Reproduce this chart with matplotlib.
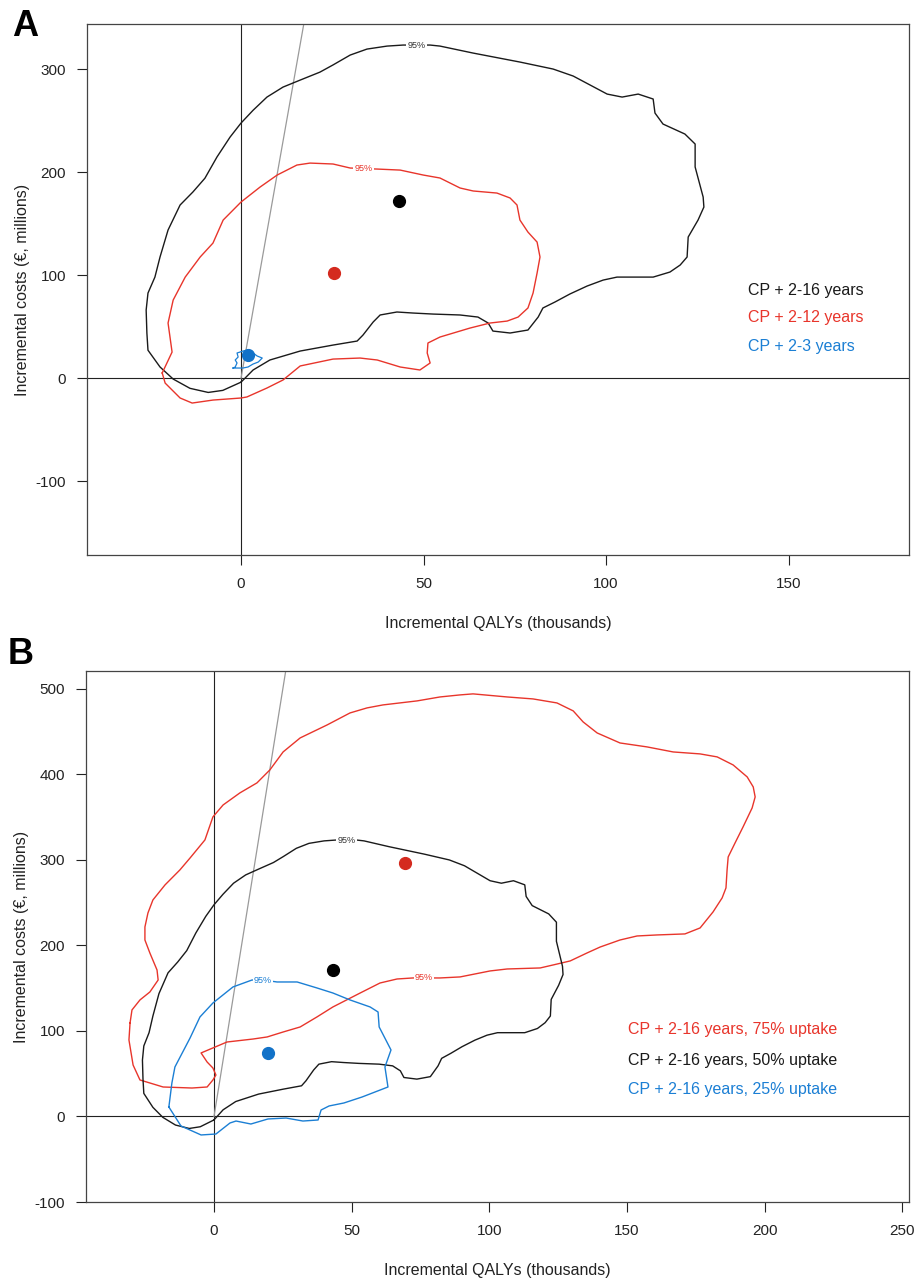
import numpy as np
import matplotlib
matplotlib.use("Agg")
import matplotlib.pyplot as plt

plt.rcParams['font.family'] = ['Liberation Sans', 'DejaVu Sans']
plt.rcParams['axes.unicode_minus'] = False

# willingness-to-pay line, thousand euro per QALY (slope in millions per thousand QALYs)
wtp = 20

# 95% contour, CP + 2-16 years (50% uptake) -- QALYs (thousands), costs (millions)
black_x = [0, -5, -9, -14, -18.6, -22.2, -25.5, -25.8, -26, -25.5, -23.6, -22.2, -20, -16.7,
           -13.2, -9.9, -6.6, -3, 0, 3.3, 7.1, 11.5, 16.2, 21.6, 25.2, 29.9, 34.5, 40, 44.4,
           51.8, 54.5, 63.6, 76.4, 85.5, 91, 100.3, 104.4, 108.8, 112.9, 113.4, 115.6, 121.6,
           124.4, 124.4, 126.6, 126.8, 125.2, 122.5, 122.2, 120.3, 117.5, 112.9, 103, 99.2,
           94.8, 90.1, 86, 82.7, 81.4, 78.6, 73.7, 69, 67.7, 64.9, 60, 52.6, 47.1, 42.7, 38.1,
           36.2, 33.4, 31.8, 25.2, 16.2, 7.9, 3.3, 0]
black_y = [-4, -12, -14, -10, -1, 10.7, 27, 43.7, 66, 82.5, 98, 117.5, 143.7, 168, 180.6, 194,
           214.6, 234, 247.6, 260, 272.8, 282.5, 289.3, 297, 304, 313.6, 319.4, 322.3, 323.3,
           323.3, 322.3, 315.5, 306.8, 300, 293.2, 275.7, 272.8, 275.7, 270.9, 257.3, 246.6,
           236.9, 227.2, 204.9, 175.7, 166, 153.4, 136.9, 117.5, 109.7, 102.9, 98, 98, 95.1,
           89.3, 81.6, 73.8, 68, 59.2, 46.6, 43.7, 45.6, 53.4, 59.2, 61.2, 62.1, 63.1, 64.1,
           61.2, 54.4, 41.7, 35.9, 32, 26.2, 17.5, 7.8, -4]

# 95% contour, CP + 2-12 years
red_a_x = [-21.6, -18.9, -20, -18.6, -15.3, -11.2, -7.7, -4.9, 0, 5.2, 9.9, 15.3, 18.9, 25.2,
           29.9, 37.3, 43.6, 49.9, 54.5, 60, 63.6, 70.1, 73.7, 75.6, 76.4, 78.6, 81.1, 81.9,
           81.1, 80, 78.6, 75.9, 72.9, 68.2, 62.7, 54.5, 51.2, 51, 51.8, 49, 43.6, 37.3, 32.6,
           25.2, 16.2, 11.5, 7.1, 1.6, 0, -7.7, -13.4, -16.7, -20.8, -21.6]
red_a_y = [4.9, 25.2, 53.4, 75.7, 98, 117.5, 131, 153.4, 170.9, 185.4, 197.1, 206.8, 208.7,
           207.8, 203.9, 202.9, 201.9, 197.1, 194.2, 184.5, 181.6, 179.6, 174.8, 168, 153.4,
           141.7, 132, 117.5, 101.9, 82.5, 68, 59.2, 55.3, 53.4, 48.5, 39.8, 34, 24.3, 14.6,
           7.8, 10.7, 17.5, 19.4, 18.4, 11.7, -1.9, -9.7, -18.4, -19.4, -21.4, -24.3, -19.4,
           -4.9, 4.9]

# 95% contour, CP + 2-3 years
blue_a_x = [-2.2, -1.6, -1.1, -1.6, -0.8, -1.1, -0.3, 0.5, 1.9, 3.3, 4.4, 5.8, 4.7, 3.3, 1.9,
            0.5, -0.8, -2.2]
blue_a_y = [9.7, 10.7, 14.6, 17.5, 20.4, 24.3, 25.2, 26.2, 27.2, 24.3, 21.4, 19.4, 15.5, 13.6,
            10.7, 9.7, 9.7, 9.7]

# 95% contour, CP + 2-16 years, 75% uptake
red_b_x = [-30.5, -29.8, -26.9, -23.3, -20.3, -20.7, -23.3, -25.1, -25.1, -24, -22.2, -17.8,
           -12.4, -8.7, -3.3, -0.4, 3.3, 9.4, 15.6, 20.3, 25.1, 31.3, 41.1, 49.4, 55.6, 61.4,
           73.8, 82.1, 89.4, 94.1, 106.5, 115.9, 124.6, 130.5, 134.1, 139.2, 147.5, 157.3,
           166.8, 176.6, 182.8, 188.6, 193.7, 195.9, 196.6, 195.5, 192.2, 189.3, 186.8, 186.4,
           186, 184.6, 181.3, 176.6, 171.1, 161, 153.7, 147.5, 140.3, 135.5, 129.4, 123.2,
           118.5, 106.5, 100.3, 89.4, 82.1, 76.3, 72.3, 66.5, 60.3, 53.1, 43.2, 37.4, 31.3,
           25.1, 19.3, 14.2, 4.7, -4.7, -2.5, -0.4, 0.7, -0.4, -2.5, -8, -18.5, -26.9, -29.4,
           -30.9, -30.5]
red_b_y = [109.4, 124.6, 136.3, 145.6, 159.6, 171.3, 191.2, 206.4, 221.6, 238, 253.2, 270.8,
           288.3, 302.3, 323.4, 350.3, 364.3, 378.4, 390.1, 405.3, 426.3, 442.7, 457.9, 471.9,
           477.8, 481.3, 486, 490.6, 493, 494.2, 490.6, 488.3, 483.6, 474.3, 461.4, 448.5,
           436.8, 432.2, 426.3, 424, 420.5, 411.1, 397.1, 385.4, 373.7, 360.8, 338.6, 319.9,
           303.5, 288.3, 267.3, 255.6, 239.2, 220.5, 213.5, 212.3, 211.1, 206.4, 198.2, 191.2,
           181.9, 177.2, 173.7, 172.5, 170.2, 163.2, 162, 162, 162, 160.8, 156.1, 144.4, 128.1,
           116.4, 104.7, 98.8, 93, 90.6, 87.1, 74.3, 63.7, 56.7, 48.5, 42.7, 34.5, 33.3, 34.5,
           42.7, 60.2, 89.5, 109.4]

# 95% contour, CP + 2-16 years, 25% uptake
blue_b_x = [-16.4, -15.3, -14.2, -8.7, -5.1, -0.4, 6.9, 13.8, 17.8, 22.9, 30.2, 37.4, 43.2,
            49.4, 56.7, 59.6, 60, 64.3, 62.1, 63.2, 53.8, 47.2, 41.8, 38.9, 37.8, 32.3, 26.2,
            19.6, 13.4, 8, 5.8, 0.7, -4.7, -12, -16.4]
blue_b_y = [11.1, 39.2, 57.9, 91.8, 116.4, 132.7, 151.5, 159.6, 159.6, 157.3, 157.3, 150.3,
            144.4, 136.3, 128.1, 122.2, 104.7, 77.8, 57.9, 34.5, 22.8, 15.8, 12.3, 7.6, -4.1,
            -5.3, -1.8, -2.9, -8.8, -5.3, -7.6, -20.5, -21.6, -11.1, 11.1]

# mean incremental QALYs / costs
mean_a = {"black": (43.3, 171.8), "red": (25.5, 102), "blue": (1.9, 22.3)}
mean_b = {"red": (69.4, 296.5), "black": (43.3, 171.8), "blue": (19.6, 74.3)}

labels_a = ["CP + 2-16 years", "CP + 2-12 years", "CP + 2-3 years"]
labels_b = ["CP + 2-16 years, 75% uptake", "CP + 2-16 years, 50% uptake",
            "CP + 2-16 years, 25% uptake"]

c_black = "#1a1a1a"
c_red = "#e8352b"
c_blue = "#1b7fd4"
dot_red = "#d42a1e"
dot_blue = "#1272c8"


def setup(ax, xlim, ylim, xticks, yticks):
    ax.set_xlim(xlim)
    ax.set_ylim(ylim)
    ax.set_xticks(xticks)
    ax.set_yticks(yticks)
    ax.tick_params(direction="out", length=7, width=0.8, pad=8, labelsize=11, colors="#222222")
    ax.tick_params(axis="x", pad=9)
    for s in ax.spines.values():
        s.set_linewidth(0.9)
        s.set_color("#444444")
    ax.axhline(0, color="#222222", lw=0.8, zorder=1)
    ax.axvline(0, color="#222222", lw=0.8, zorder=1)
    xx = np.array([0, ylim[1] / wtp])
    ax.plot(xx, wtp * xx, color="#9a9a9a", lw=0.9, zorder=1)
    ax.set_xlabel("Incremental QALYs (thousands)", fontsize=11.5, labelpad=18, color="#222222")
    ax.set_ylabel("Incremental costs (€, millions)", fontsize=11.5, labelpad=4, color="#222222")


def label95(ax, x, y, color):
    ax.text(x, y, "95%", fontsize=6.5, color=color, ha="center", va="center", zorder=4,
            bbox=dict(boxstyle="square,pad=0.15", fc="white", ec="none"))


fig = plt.figure(figsize=(9.17, 12.79), dpi=100)

# ---- panel A
ax1 = fig.add_axes([0.0949, 0.5661, 0.8964, 0.4151])
setup(ax1, (-42.2, 183), (-171.8, 343.7), [0, 50, 100, 150], [-100, 0, 100, 200, 300])
ax1.plot(black_x, black_y, color=c_black, lw=1.0, zorder=2)
ax1.plot(red_a_x, red_a_y, color=c_red, lw=1.0, zorder=2)
ax1.plot(blue_a_x, blue_a_y, color=c_blue, lw=0.9, zorder=2)
label95(ax1, 48.1, 323.3, "#333333")
label95(ax1, 33.6, 203.4, c_red)
ax1.plot(*mean_a["black"], "o", color="black", ms=8.5, zorder=5)
ax1.plot(*mean_a["red"], "o", color=dot_red, ms=8.5, zorder=5)
ax1.plot(*mean_a["blue"], "o", color=dot_blue, ms=8.5, zorder=5)
for lab, col, yy in zip(labels_a, [c_black, c_red, c_blue], [85.4, 58.3, 31]):
    ax1.text(139, yy, lab, color=col, fontsize=11.5, va="center", ha="left")

# ---- panel B
ax2 = fig.add_axes([0.0938, 0.0602, 0.8975, 0.4152])
setup(ax2, (-46.5, 252.5), (-100, 521), [0, 50, 100, 150, 200, 250],
      [-100, 0, 100, 200, 300, 400, 500])
ax2.plot(red_b_x, red_b_y, color=c_red, lw=1.0, zorder=2)
ax2.plot(black_x, black_y, color=c_black, lw=1.0, zorder=2)
ax2.plot(blue_b_x, blue_b_y, color=c_blue, lw=1.0, zorder=2)
label95(ax2, 76.3, 162, c_red)
label95(ax2, 48.1, 323.3, "#333333")
label95(ax2, 17.8, 159.6, c_blue)
ax2.plot(*mean_b["red"], "o", color=dot_red, ms=8.5, zorder=5)
ax2.plot(*mean_b["black"], "o", color="black", ms=8.5, zorder=5)
ax2.plot(*mean_b["blue"], "o", color=dot_blue, ms=8.5, zorder=5)
for lab, col, yy in zip(labels_b, [c_red, c_black, c_blue], [101.2, 64.9, 31]):
    ax2.text(150.4, yy, lab, color=col, fontsize=11.5, va="center", ha="left")

fig.text(0.027, 0.979, "A", fontsize=26, fontweight="bold", ha="center", va="center")
fig.text(0.022, 0.488, "B", fontsize=26, fontweight="bold", ha="center", va="center")

fig.savefig("out.png", dpi=100)
